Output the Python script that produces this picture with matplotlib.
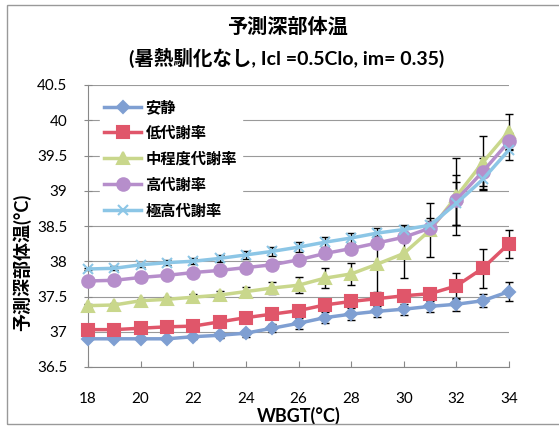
import matplotlib
matplotlib.use("Agg")
import matplotlib.pyplot as plt
from matplotlib.patches import Rectangle

plt.rcParams['font.family'] = ['Lato', 'Noto Sans CJK JP', 'DejaVu Sans']

wbgt = list(range(18, 35))

labels = ['安静', '低代謝率', '中程度代謝率', '高代謝率', '極高代謝率']

rest = [36.90, 36.90, 36.90, 36.90, 36.93, 36.95, 36.98, 37.05, 37.12, 37.20,
        37.25, 37.29, 37.32, 37.36, 37.39, 37.44, 37.57]
low = [37.03, 37.03, 37.05, 37.07, 37.08, 37.14, 37.20, 37.25, 37.30, 37.38,
       37.43, 37.47, 37.51, 37.54, 37.65, 37.90, 38.25]
mid = [37.37, 37.38, 37.44, 37.46, 37.49, 37.52, 37.57, 37.62, 37.66, 37.76,
       37.82, 37.96, 38.11, 38.44, 38.92, 39.40, 39.84]
high = [37.72, 37.73, 37.77, 37.80, 37.84, 37.87, 37.91, 37.95, 38.02, 38.11,
        38.18, 38.26, 38.34, 38.47, 38.87, 39.27, 39.70]
very_high = [37.89, 37.90, 37.95, 37.98, 38.00, 38.04, 38.09, 38.14, 38.20, 38.27,
             38.33, 38.40, 38.45, 38.51, 38.82, 39.16, 39.58]

rest_err = [0.02, 0.02, 0.02, 0.02, 0.03, 0.04, 0.05, 0.06, 0.08, 0.08,
            0.08, 0.08, 0.08, 0.08, 0.09, 0.09, 0.13]
low_err = [0.02, 0.02, 0.03, 0.03, 0.04, 0.05, 0.06, 0.06, 0.07, 0.07,
           0.08, 0.08, 0.08, 0.08, 0.18, 0.28, 0.20]
mid_err = [0.02, 0.03, 0.03, 0.04, 0.05, 0.06, 0.07, 0.08, 0.11, 0.14,
           0.16, 0.40, 0.35, 0.38, 0.55, 0.38, 0.25]
high_err = [0.02, 0.02, 0.03, 0.03, 0.04, 0.05, 0.05, 0.06, 0.06, 0.07,
            0.07, 0.07, 0.07, 0.10, 0.35, 0.20, 0.12]
very_high_err = [0.02, 0.03, 0.03, 0.04, 0.04, 0.05, 0.06, 0.06, 0.07, 0.07,
                 0.07, 0.07, 0.06, 0.10, 0.30, 0.15, 0.15]

series = [rest, low, mid, high, very_high]
errors = [rest_err, low_err, mid_err, high_err, very_high_err]
colors = ['#7f9fd2', '#e0566a', '#c9d78c', '#b68ecb', '#8cc6e6']
markers = ['D', 's', '^', 'o', 'x']
msizes = [6, 9, 8, 9, 7]

fig = plt.figure(figsize=(5.59, 4.28), dpi=100)
ax = fig.add_axes([88 / 559, 1 - 367 / 428, 421 / 559, 282 / 428])

handles = []
for y, e, c, m, ms, lab in zip(series, errors, colors, markers, msizes, labels):
    ax.errorbar(wbgt, y, yerr=e, fmt='none', ecolor='black', elinewidth=1,
                capsize=3, capthick=1, zorder=2)
    h, = ax.plot(wbgt, y, color=c, linewidth=2.5, marker=m, markersize=ms,
                 markerfacecolor=c, markeredgecolor=c, markeredgewidth=1.5,
                 label=lab, zorder=3)
    handles.append(h)

ax.set_xlim(18, 34)
ax.set_ylim(36.5, 40.5)
ax.set_xticks(range(18, 35, 2))
ax.set_yticks([36.5, 37, 37.5, 38, 38.5, 39, 39.5, 40, 40.5])
ax.set_yticklabels(['36.5', '37', '37.5', '38', '38.5', '39', '39.5', '40', '40.5'])
ax.yaxis.grid(True, color='#9a9a9a', linewidth=0.8)
ax.set_axisbelow(True)
for s in ['top', 'right']:
    ax.spines[s].set_visible(False)
for s in ['left', 'bottom']:
    ax.spines[s].set_color('#888888')
ax.tick_params(axis='y', direction='inout', length=6, color='#888888',
               labelsize=11, pad=12)
ax.tick_params(axis='x', direction='in', length=4, color='#888888',
               labelsize=11, pad=18)
for art in ax.lines + ax.collections:
    art.set_clip_on(False)

ax.set_xlabel('WBGT(°C)', fontsize=13, fontweight='bold', labelpad=1)
ax.set_ylabel('予測深部体温(°C)', fontsize=13, fontweight='bold',
              va='center', ha='center')
ax.yaxis.set_label_coords(-0.157, 0.37)

fig.text(0.515, 1 - 27 / 428, '予測深部体温', ha='center', va='center',
         fontsize=14.5, fontweight='bold')
fig.text(0.512, 1 - 58 / 428, '(暑熱馴化なし, Icl =0.5Clo, im= 0.35)',
         ha='center', va='center', fontsize=14, fontweight='bold')

leg = fig.legend(handles=handles, loc='upper left',
                 bbox_to_anchor=(92 / 559, 1 - 88 / 428), fontsize=11,
                 frameon=True, framealpha=1, edgecolor='white',
                 handlelength=2.4, labelspacing=0.75, borderpad=0.3,
                 handletextpad=0.3)
for t in leg.get_texts():
    t.set_fontweight('bold')

fig.patches.append(Rectangle((7 / 559, 1 - 424 / 428), 1.0, 419 / 428,
                             transform=fig.transFigure, fill=False,
                             edgecolor='#999999', linewidth=1))

fig.savefig('out.png', dpi=100)
